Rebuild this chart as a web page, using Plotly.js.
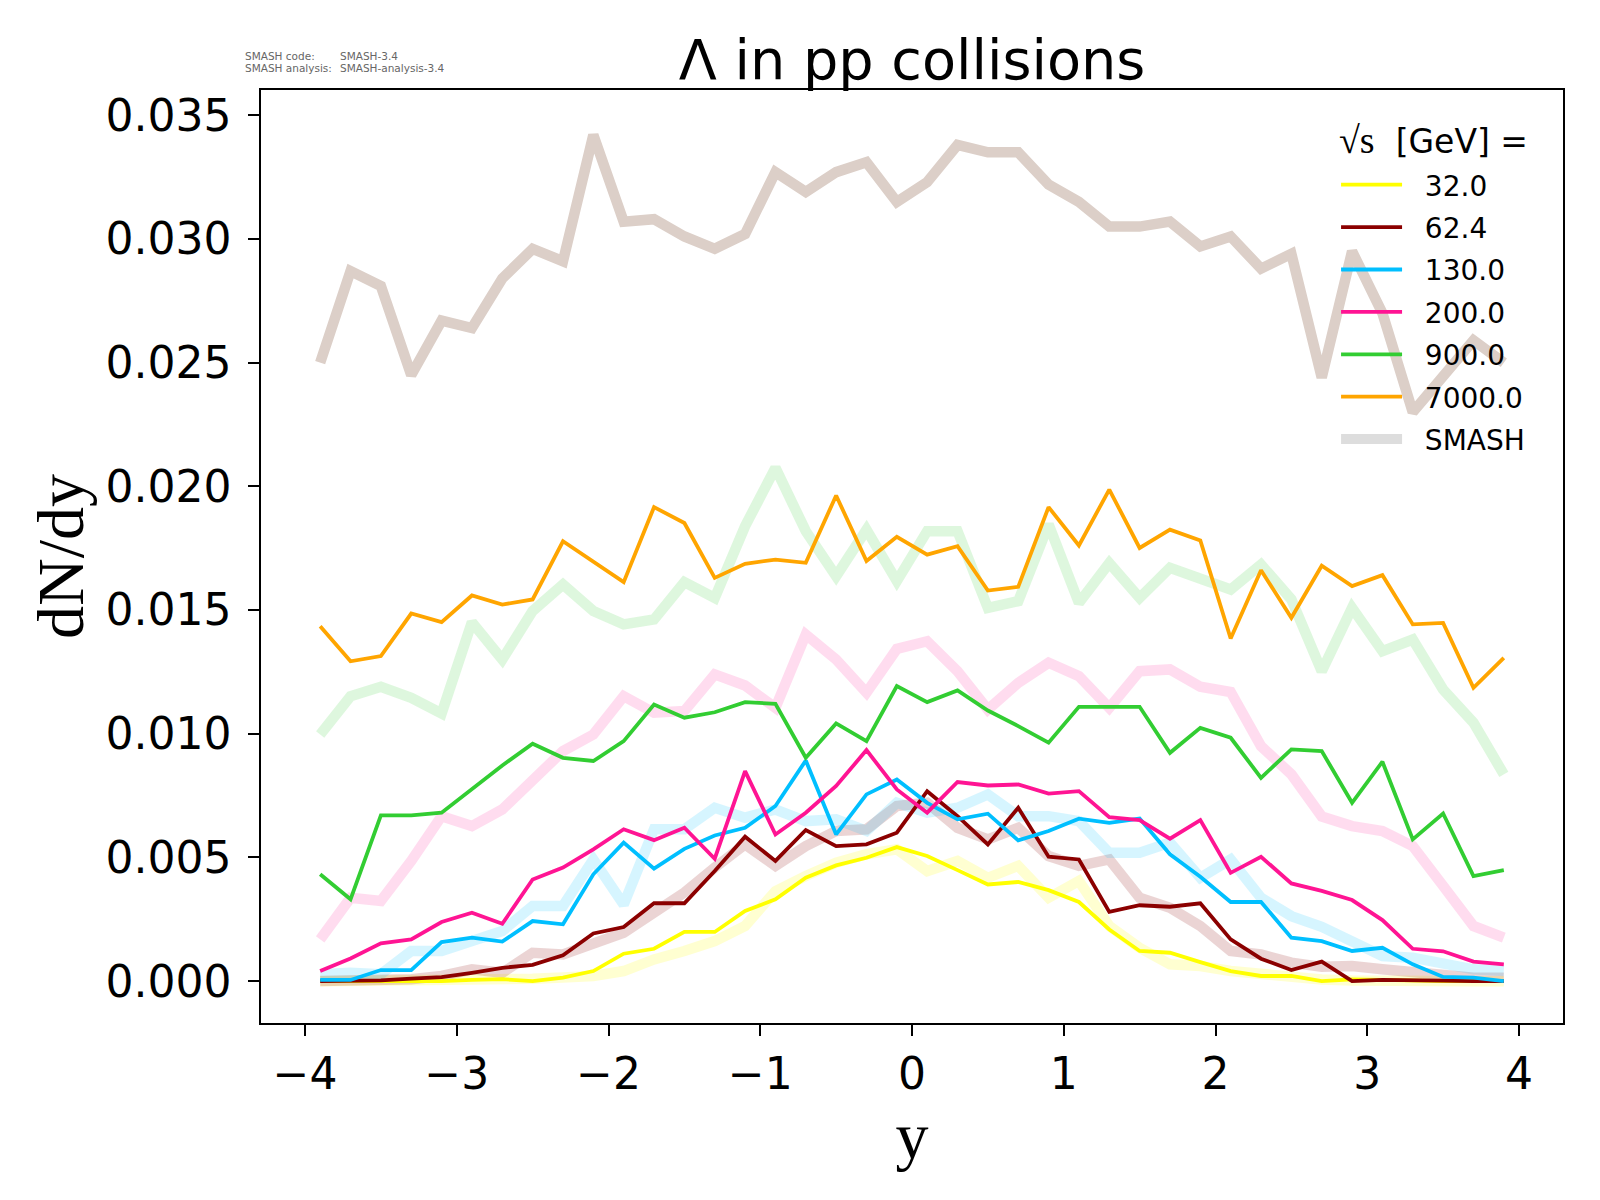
<!DOCTYPE html>
<html>
<head>
<meta charset="utf-8">
<script src="https://cdn.plot.ly/plotly-3.0.1.min.js"></script>
<style>
	body{margin:0;background:#fff}
	#lambda_pp{width:1600px;height:1200px}
</style>
</head>
<body>
<div id="lambda_pp"></div>
<script>
// rapidity bin centres
var rapidity = [-3.9,-3.7,-3.5,-3.3,-3.1,-2.9,-2.7,-2.5,-2.3,-2.1,-1.9,-1.7,-1.5,-1.3,-1.1,-0.9,-0.7,-0.5,-0.3,-0.1,
	0.1,0.3,0.5,0.7,0.9,1.1,1.3,1.5,1.7,1.9,2.1,2.3,2.5,2.7,2.9,3.1,3.3,3.5,3.7,3.9];

var energies = ['32.0','62.4','130.0','200.0','900.0','7000.0'];

// thin lines
var data32 = [0,0,0,0,0,0.00005,0.00008,0,0.00014,0.00041,0.00111,0.00131,0.00199,0.00199,0.00284,0.00331,0.00418,0.00468,0.00499,0.00542,
	0.00506,0.00449,0.00391,0.00401,0.00368,0.0032,0.00209,0.00122,0.00115,0.00077,0.00041,0.00021,0.00021,0,0.00007,0.00005,0.00001,0,0,0];
var data62 = [0,0,0.00003,0.0001,0.00016,0.00034,0.00054,0.00066,0.00105,0.00193,0.00219,0.00315,0.00315,0.00445,0.00584,0.00486,0.00611,0.00546,0.00553,0.006,
	0.00768,0.00667,0.00553,0.00701,0.00503,0.00492,0.0028,0.00307,0.00301,0.00315,0.00169,0.00091,0.00045,0.00079,0,0.00005,0.00005,0.00002,0,0];
var data130 = [0.00005,0.00005,0.00045,0.00045,0.00158,0.00176,0.0016,0.00243,0.0023,0.00432,0.0056,0.00455,0.00535,0.00589,0.0062,0.00708,0.00892,0.00593,0.00755,0.00815,
	0.00721,0.00654,0.00677,0.00569,0.00607,0.00657,0.0064,0.00657,0.00513,0.00422,0.0032,0.0032,0.00176,0.00162,0.00122,0.00135,0.00068,0.00017,0.00014,0];
var data200 = [0.00041,0.00092,0.00153,0.00169,0.00239,0.00277,0.00232,0.00411,0.00459,0.00533,0.00614,0.0057,0.0062,0.00495,0.00849,0.00593,0.00681,0.00789,0.00934,0.00775,
	0.00681,0.00805,0.00791,0.00795,0.00758,0.00768,0.00663,0.00651,0.00576,0.00651,0.00438,0.00503,0.00395,0.00365,0.00328,0.00247,0.00131,0.00121,0.00079,0.00068];
var data900 = [0.00432,0.00331,0.0067,0.0067,0.00681,0.00775,0.00872,0.0096,0.00903,0.0089,0.0097,0.01118,0.01065,0.01087,0.01128,0.01121,0.00903,0.01042,0.0097,0.01193,
	0.01128,0.01175,0.01094,0.01031,0.00964,0.01109,0.01109,0.01109,0.00923,0.01024,0.00984,0.00822,0.00937,0.0093,0.00721,0.00887,0.00573,0.00678,0.00425,0.00449];
var data7000 = [0.01435,0.01293,0.01314,0.01486,0.01451,0.01559,0.01522,0.01543,0.01778,0.01696,0.01613,0.01916,0.01852,0.0163,0.01687,0.01704,0.01691,0.01963,0.01698,0.01796,
	0.01724,0.01758,0.01579,0.01594,0.01916,0.01761,0.01987,0.01751,0.01825,0.01781,0.01385,0.01661,0.01469,0.01679,0.01597,0.01641,0.01442,0.01448,0.01186,0.01307];

// SMASH (thick, faded)
var smash32 = [0,0,0,0,0.00003,0.00005,0.0001,0.0001,0.00015,0.00021,0.00041,0.00088,0.00122,0.00162,0.00223,0.00364,0.00425,0.00479,0.00513,0.00533,
	0.00445,0.00486,0.00418,0.00466,0.00337,0.00405,0.00223,0.00135,0.00068,0.00061,0.00041,0.00028,0.00014,0.00007,0.00003,0,0,0,0,0];
var smash62 = [0.00001,0.00001,0.00001,0.00008,0.00021,0.00048,0.00034,0.00115,0.00108,0.00156,0.00196,0.00277,0.00358,0.00459,0.00553,0.00466,0.00546,0.00607,0.00614,0.00708,
	0.00721,0.0062,0.00573,0.0062,0.00506,0.00466,0.00492,0.00337,0.00297,0.00223,0.00122,0.00108,0.00075,0.00058,0.00061,0.00048,0.00034,0.00021,0.00014,0.00014];
var smash130 = [0.00028,0.00034,0.00028,0.00122,0.00122,0.00162,0.00203,0.00304,0.00304,0.00492,0.0031,0.00614,0.00614,0.00701,0.00661,0.00694,0.00647,0.00654,0.00607,0.00721,
	0.00681,0.00701,0.00755,0.00667,0.00667,0.00647,0.00519,0.00519,0.0056,0.00418,0.00492,0.00337,0.00263,0.0022,0.00156,0.00102,0.00095,0.00068,0.00048,0.00041];
var smash200 = [0.00169,0.00337,0.00324,0.00486,0.00667,0.00627,0.00694,0.00815,0.0093,0.00997,0.01152,0.01085,0.01092,0.0124,0.01195,0.01105,0.01401,0.013,0.01166,0.01343,
	0.01374,0.01253,0.01098,0.01206,0.01287,0.01233,0.01105,0.01253,0.0126,0.0119,0.01169,0.0095,0.00836,0.00666,0.00627,0.00607,0.00546,0.00385,0.00223,0.00176];
var smash900 = [0.00997,0.01152,0.0119,0.01145,0.01082,0.01451,0.013,0.01496,0.01603,0.01496,0.01442,0.01462,0.01613,0.01549,0.01839,0.02075,0.01819,0.01637,0.01825,0.01617,
	0.01819,0.01819,0.01509,0.01536,0.01846,0.01529,0.0169,0.01549,0.01671,0.0163,0.01583,0.01684,0.01543,0.01253,0.01509,0.01334,0.01381,0.01179,0.01045,0.00836];
var smash7000 = [0.025,0.0287,0.0281,0.0245,0.0267,0.0264,0.0284,0.0296,0.0291,0.0342,0.0307,0.0308,0.0301,0.0296,0.0302,0.0327,0.0319,0.0327,0.0331,0.0315,
	0.0323,0.0338,0.0335,0.0335,0.0322,0.0315,0.0305,0.0305,0.0307,0.0297,0.0301,0.0288,0.0294,0.0244,0.0295,0.027,0.023,0.0245,0.0259,0.025];

var colors = ['#ffff00','#8b0000','#00bfff','#ff1493','#32cd32','#ffa500'],
	fadedColors = ['rgba(255,255,0,0.18)','rgba(139,0,0,0.17)','rgba(0,191,255,0.16)','rgba(255,20,147,0.15)','rgba(50,205,50,0.16)','#dccfc8'];

var measured = [data32,data62,data130,data200,data900,data7000],
	smash = [smash32,smash62,smash130,smash200,smash900,smash7000];

var traces = [];

// faded SMASH curves go underneath
smash.forEach(function(values,i) {
	traces.push({
		type:'scatter', mode:'lines',
		x:rapidity, y:values,
		line:{color:fadedColors[i], width:10.5},
		showlegend:false, hoverinfo:'skip'
	});
});

// nbsp pad = gap between legend handle and label
var pad = '\u00a0\u00a0';

measured.forEach(function(values,i) {
	traces.push({
		type:'scatter', mode:'lines',
		x:rapidity, y:values,
		name:pad+energies[i],
		legendgroup:'g'+i,
		line:{color:colors[i], width:3.8}
	});
});

// legend-only entry for SMASH
traces.push({
	type:'scatter', mode:'lines',
	x:[null], y:[null],
	name:pad+'SMASH',
	legendgroup:'smash',
	line:{color:'#dddddd', width:10}
});

var axisStyle = {
	showline:true, mirror:true, linecolor:'black', linewidth:1.6,
	ticks:'outside', ticklen:11, tickwidth:1.6, tickcolor:'black',
	showgrid:false, zeroline:false,
	tickfont:{size:44, color:'black'}
};

var layout = {
	width:1600, height:1200,
	margin:{l:261, r:37, t:90, b:177},
	paper_bgcolor:'white', plot_bgcolor:'white',
	font:{family:'DejaVu Sans', color:'black'},
	title:{
		text:'Λ in pp collisions',
		font:{size:55.7, color:'black'},
		x:0.5, xref:'paper', xanchor:'center',
		y:0.95, yref:'container', yanchor:'middle'
	},
	xaxis:Object.assign({}, axisStyle, {
		range:[-4.29,4.29], tick0:0, dtick:1,
		ticklabelstandoff:0,
		title:{text:'y', font:{family:'Liberation Serif', size:66}, standoff:0}
	}),
	yaxis:Object.assign({}, axisStyle, {
		range:[-0.00169,0.03602], tick0:0, dtick:0.005, tickformat:'.3f',
		ticklabelstandoff:8,
		title:{text:'dN/dy', font:{family:'Liberation Serif', size:66}, standoff:0}
	}),
	legend:{
		x:0.8257, xanchor:'left', y:0.925, yanchor:'top',
		bgcolor:'rgba(0,0,0,0)', borderwidth:0,
		font:{size:28, color:'black'},
		itemwidth:61, tracegroupgap:3
	},
	annotations:[
		{text:'SMASH code:', x:-0.0138, y:1.0364},
		{text:'SMASH-3.4', x:0.0591, y:1.0364},
		{text:'SMASH analysis:', x:-0.0138, y:1.0239},
		{text:'SMASH-analysis-3.4', x:0.0591, y:1.0239}
	].map(function(a) {
		return Object.assign(a, {
			xref:'paper', yref:'paper', xanchor:'left', yanchor:'middle',
			showarrow:false, font:{size:10.5, color:'#666666'}
		});
	}).concat([{
		// legend heading
		text:'<span style="font-family:Liberation Serif;font-size:38px">√s</span>  [GeV] =',
		xref:'paper', yref:'paper', x:0.8264, y:0.9464,
		xanchor:'left', yanchor:'middle', showarrow:false,
		font:{size:33, color:'black'}
	}])
};

Plotly.newPlot('lambda_pp', traces, layout, {displayModeBar:false});
</script>
</body>
</html>
